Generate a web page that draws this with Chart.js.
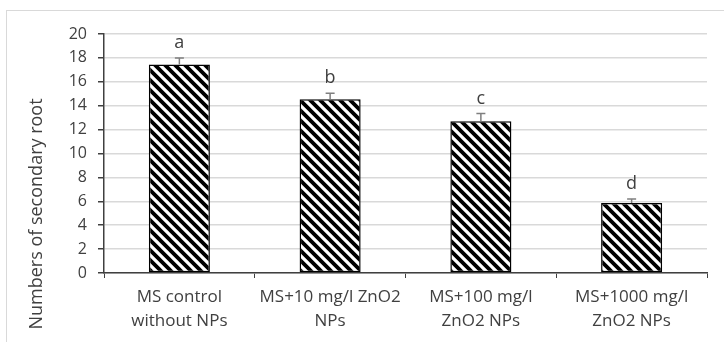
<!DOCTYPE html>
<html>
<head>
<meta charset="utf-8">
<script src="https://cdn.jsdelivr.net/npm/chart.js@4"></script>
<style>
  body { margin: 0; background: #fff; }
  #wrap { width: 724px; height: 342px; position: relative; }
</style>
</head>
<body>
<div id="wrap"><canvas id="myChart"></canvas></div>
<script>
// data
const categories = [
  ['MS control', 'without NPs'],
  ['MS+10 mg/l ZnO2', 'NPs'],
  ['MS+100 mg/l', 'ZnO2 NPs'],
  ['MS+1000 mg/l', 'ZnO2 NPs']
]
const means = [17.45, 14.55, 12.7, 5.85]
const errors = [0.55, 0.5, 0.65, 0.35]
const letters = ['a', 'b', 'c', 'd']
const yTicks = [0, 2, 4, 6, 8, 10, 12, 14, 16, 18, 20]
const yTitle = 'Numbers of secondary root'

const FONT = 'Open Sans'
const TXT = '#404040'

// diagonal hatch like the Excel pattern fill
function hatch() {
  let c = document.createElement('canvas')
  c.width = 10
  c.height = 10
  let g = c.getContext('2d')
  g.fillStyle = '#fff'
  g.fillRect(0, 0, 10, 10)
  g.strokeStyle = '#000'
  g.lineWidth = 3.8
  g.beginPath()
  g.moveTo(-5, -5); g.lineTo(15, 15)
  g.moveTo(-5, 5); g.lineTo(5, 15)
  g.moveTo(5, -5); g.lineTo(15, 5)
  g.stroke()
  return g.createPattern(c, 'repeat')
}

// outer frame, error bars, letters, y title
const extras = {
  id: 'extras',
  beforeDraw(chart) {
    let ctx = chart.ctx
    ctx.save()
    ctx.strokeStyle = '#d9d9d9'
    ctx.lineWidth = 1
    ctx.strokeRect(6.5, 10.5, 740, 340)
    ctx.restore()
  },
  afterDatasetsDraw(chart) {
    let ctx = chart.ctx
    let x = chart.scales.x, y = chart.scales.y
    ctx.save()
    means.forEach((m, i) => {
      let px = x.getPixelForValue(i)
      let top = y.getPixelForValue(m + errors[i])
      let base = y.getPixelForValue(m)
      ctx.strokeStyle = '#7f7f7f'
      ctx.lineWidth = 1.5
      ctx.beginPath()
      ctx.moveTo(px, base)
      ctx.lineTo(px, top)
      ctx.moveTo(px - 4.5, top)
      ctx.lineTo(px + 4.5, top)
      ctx.stroke()
      ctx.fillStyle = TXT
      ctx.font = '18px "' + FONT + '"'
      ctx.textAlign = 'center'
      ctx.textBaseline = 'middle'
      ctx.fillText(letters[i], px, top - 15)
    })
    ctx.translate(37, 214)
    ctx.rotate(-Math.PI / 2)
    ctx.fillStyle = TXT
    ctx.font = '18px "' + FONT + '"'
    ctx.textAlign = 'center'
    ctx.textBaseline = 'middle'
    ctx.fillText(yTitle, 0, 0)
    ctx.restore()
  }
}

new Chart('myChart', {
  type: 'bar',
  data: {
    labels: categories,
    datasets: [{
      data: means,
      backgroundColor: hatch(),
      borderColor: '#000',
      borderWidth: 1.5,
      borderSkipped: false,
      categoryPercentage: 1,
      barPercentage: 0.405
    }]
  },
  options: {
    responsive: true,
    maintainAspectRatio: false,
    animation: false,
    layout: { padding: { top: 34, right: 17, left: 0, bottom: 0 } },
    plugins: { legend: { display: false }, tooltip: { enabled: false } },
    scales: {
      x: {
        afterFit(s) { s.height = 69 },
        grid: { offset: true, drawOnChartArea: false, drawTicks: true, tickLength: 5, tickColor: '#404040' },
        border: { color: '#404040', width: 1.5 },
        ticks: { color: TXT, padding: 7, font: { family: FONT, size: 17, lineHeight: 1.42 }, maxRotation: 0 }
      },
      y: {
        min: 0,
        max: 20,
        afterFit(s) { s.width = 104 },
        afterBuildTicks(s) { s.ticks = yTicks.map(v => ({ value: v })) },
        grid: { color: '#d9d9d9', lineWidth: 1.5, tickLength: 6, tickColor: '#404040' },
        border: { color: '#404040', width: 1.5 },
        ticks: { color: TXT, padding: 11, font: { family: FONT, size: 16 } }
      }
    }
  },
  plugins: [extras]
})
</script>
</body>
</html>
